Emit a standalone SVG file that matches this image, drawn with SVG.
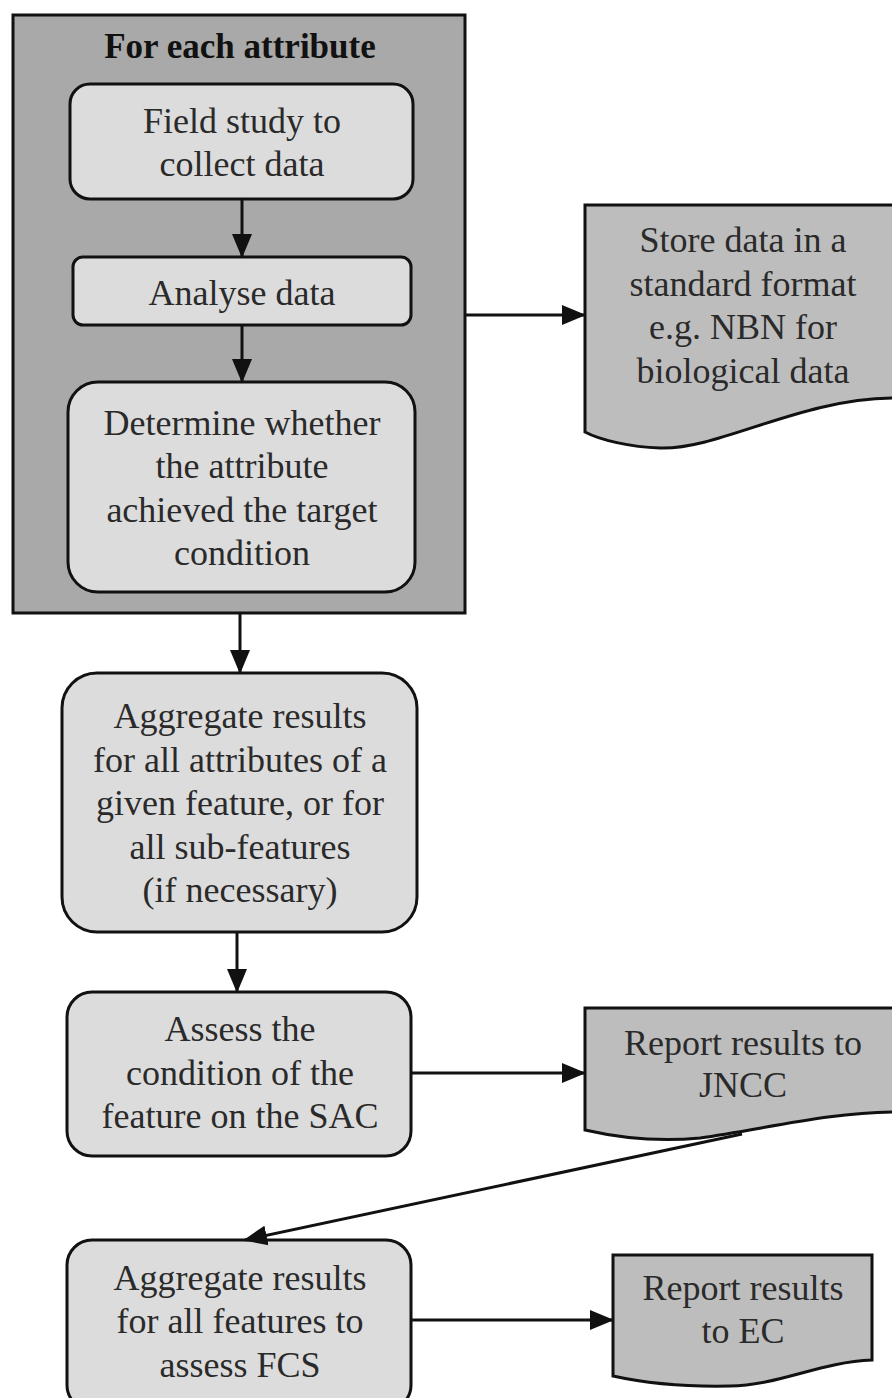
<svg xmlns="http://www.w3.org/2000/svg" width="892" height="1398" viewBox="0 0 892 1398">
<style>
.lbl{font-family:'Liberation Serif',serif;font-size:36px;fill:#2a2a2a;text-anchor:middle}
.bold{font-weight:bold;fill:#111;font-size:35px}
.box{fill:#dcdcdc;stroke:#111;stroke-width:3}
.doc{fill:#bdbdbd;stroke:#111;stroke-width:3}
.c{stroke:#111;stroke-width:3;fill:none}
</style>
<defs>
<marker id="a" markerWidth="24" markerHeight="24" refX="22" refY="12" orient="auto" markerUnits="userSpaceOnUse" viewBox="0 0 24 24">
<path d="M0,2 L24,12 L0,22 z" fill="#111"/>
</marker>
</defs>
<rect width="892" height="1398" fill="#fff"/>
<g id="outer">
<rect x="13" y="15" width="452" height="598" fill="#a9a9a9" stroke="#111" stroke-width="3"/>
<text class="lbl bold" x="240" y="58">For each attribute</text>
</g>
<g id="field">
<rect class="box" x="70" y="84" width="343" height="115" rx="20"/>
<text class="lbl" x="242" y="133">Field study to</text>
<text class="lbl" x="242" y="176">collect data</text>
</g>
<g id="analyse">
<rect class="box" x="73" y="257" width="338" height="68" rx="10"/>
<text class="lbl" x="242" y="305">Analyse data</text>
</g>
<g id="determine">
<rect class="box" x="68" y="382" width="347" height="210" rx="30"/>
<text class="lbl" x="242" y="435">Determine whether</text>
<text class="lbl" x="242" y="478">the attribute</text>
<text class="lbl" x="242" y="522">achieved the target</text>
<text class="lbl" x="242" y="565">condition</text>
</g>
<g id="store">
<path class="doc" d="M585,205 L895,205 L895,398 C800,398 720,450 660,448 C630,447 600,440 585,432 Z"/>
<text class="lbl" x="743" y="252">Store data in a</text>
<text class="lbl" x="743" y="296">standard format</text>
<text class="lbl" x="743" y="339">e.g. NBN for</text>
<text class="lbl" x="743" y="383">biological data</text>
</g>
<g id="aggregate1">
<rect class="box" x="62" y="673" width="355" height="259" rx="35"/>
<text class="lbl" x="240" y="728">Aggregate results</text>
<text class="lbl" x="240" y="772">for all attributes of a</text>
<text class="lbl" x="240" y="815">given feature, or for</text>
<text class="lbl" x="240" y="859">all sub-features</text>
<text class="lbl" x="240" y="902">(if necessary)</text>
</g>
<g id="assess">
<rect class="box" x="67" y="992" width="344" height="164" rx="25"/>
<text class="lbl" x="240" y="1041">Assess the</text>
<text class="lbl" x="240" y="1085">condition of the</text>
<text class="lbl" x="240" y="1128">feature on the SAC</text>
</g>
<g id="jncc">
<path class="doc" d="M585,1008 L895,1008 L895,1112 C830,1112 760,1130 700,1138 C660,1142 620,1138 585,1130 Z"/>
<text class="lbl" x="743" y="1055">Report results to</text>
<text class="lbl" x="743" y="1097">JNCC</text>
</g>
<g id="aggregate2">
<rect class="box" x="67" y="1240" width="344" height="170" rx="25"/>
<text class="lbl" x="240" y="1290">Aggregate results</text>
<text class="lbl" x="240" y="1333">for all features to</text>
<text class="lbl" x="240" y="1377">assess FCS</text>
</g>
<g id="ec">
<path class="doc" d="M613,1255 L872,1255 L872,1360 C820,1362 780,1385 730,1386 C680,1387 640,1382 613,1376 Z"/>
<text class="lbl" x="743" y="1300">Report results</text>
<text class="lbl" x="743" y="1343">to EC</text>
</g>
<g id="connectors">
<line class="c" x1="242" y1="199" x2="242" y2="256" marker-end="url(#a)"/>
<line class="c" x1="242" y1="325" x2="242" y2="381" marker-end="url(#a)"/>
<line class="c" x1="465" y1="315" x2="584" y2="315" marker-end="url(#a)"/>
<line class="c" x1="240" y1="613" x2="240" y2="672" marker-end="url(#a)"/>
<line class="c" x1="237" y1="932" x2="237" y2="991" marker-end="url(#a)"/>
<line class="c" x1="411" y1="1073" x2="584" y2="1073" marker-end="url(#a)"/>
<line class="c" x1="742" y1="1134" x2="245" y2="1240" marker-end="url(#a)"/>
<line class="c" x1="411" y1="1320" x2="612" y2="1320" marker-end="url(#a)"/>
</g>
</svg>
